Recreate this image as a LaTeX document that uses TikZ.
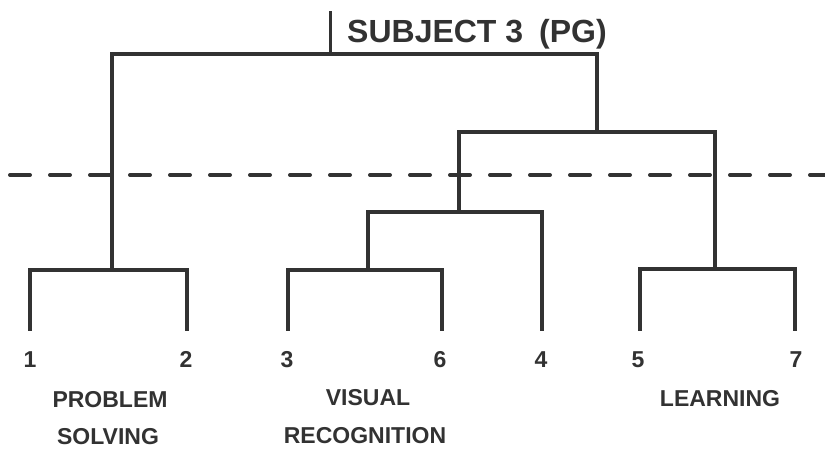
\documentclass[tikz,border=0pt]{standalone}
\usepackage{fontspec}
\setmainfont{Liberation Sans}
\usepackage{tikz}

\begin{document}
\begin{tikzpicture}[x=1pt,y=-1pt,line cap=rect]
				\definecolor{custcol_ink}{RGB}{50, 50, 50}
				\tikzset{branch/.style={line width=4.5pt, custcol_ink}, lbl/.style={inner sep=0, outer sep=0, anchor=base, custcol_ink, font=\fontsize{23pt}{23pt}\bfseries\selectfont}}
				\useasboundingbox (0,0) rectangle (825,452);
				% leaves and merge points
				\coordinate (leaf1) at (30,329);
				\coordinate (leaf2) at (187,329);
				\coordinate (leaf3) at (288,329);
				\coordinate (leaf6) at (442,329);
				\coordinate (leaf4) at (542,329);
				\coordinate (leaf5) at (640,329);
				\coordinate (leaf7) at (795,329);
				\coordinate (join12) at (112,270);
				\coordinate (join36) at (368,270);
				\coordinate (join57) at (715,269);
				\coordinate (join364) at (459,212);
				\coordinate (join3647) at (597,132);
				\coordinate (root) at (330,54);
				\coordinate (rootTop) at (330,13);
				\coordinate (cutL) at (10,175);
				\coordinate (cutR) at (825,175);
				\draw [branch] (leaf1) |- (join12) -| (leaf2);
				\draw [branch] (leaf3) |- (join36) -| (leaf6);
				\draw [branch] (leaf5) |- (join57) -| (leaf7);
				\draw [branch] (join36) |- (join364) -| (leaf4);
				\draw [branch] (join364) |- (join3647) -| (join57);
				\draw [branch] (join12) |- (root) -| (join3647);
				\draw [line width=3pt, custcol_ink] (root) -- (rootTop);
				\draw [line width=4pt, custcol_ink, line cap=round, dash pattern=on 20pt off 20pt] (cutL) -- (cutR);
				\node[inner sep=0, outer sep=0, anchor=base, custcol_ink, font=\fontsize{32pt}{32pt}\bfseries\selectfont] (title) at (477,43) {SUBJECT 3\hspace{0.5em}(PG)};
				\node[lbl] (num1) at (30,367) {1};
				\node[lbl] (num2) at (186,367) {2};
				\node[lbl] (num3) at (287,367) {3};
				\node[lbl] (num6) at (440,367) {6};
				\node[lbl] (num4) at (541,367) {4};
				\node[lbl] (num5) at (638,367) {5};
				\node[lbl] (num7) at (796,367) {7};
				\node[lbl] (probA) at (110,407) {PROBLEM};
				\node[lbl] (probB) at (108,444) {SOLVING};
				\node[lbl] (visA) at (368,405) {VISUAL};
				\node[lbl] (visB) at (365,443) {RECOGNITION};
				\node[lbl] (learn) at (720,406) {LEARNING};
			\end{tikzpicture}
\end{document}
